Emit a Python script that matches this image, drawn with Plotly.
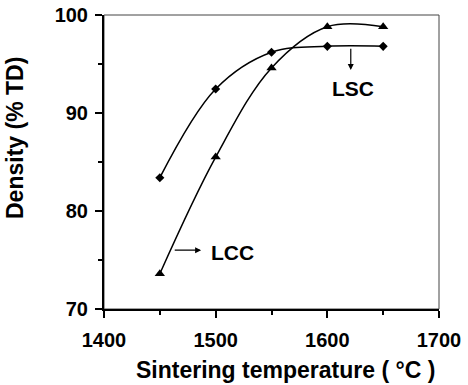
import plotly.graph_objects as go

temps = [1450, 1500, 1550, 1600, 1650]
lsc_density = [83.4, 92.45, 96.2, 96.8, 96.8]
lcc_density = [73.6, 85.5, 94.6, 98.8, 98.8]
x_ticks = [1400, 1500, 1600, 1700]
y_ticks = [70, 80, 90, 100]

FONT = "Liberation Sans, Arial, sans-serif"

fig = go.Figure()
fig.add_trace(go.Scatter(x=temps, y=lsc_density, mode="lines+markers", name="LSC",
                         line=dict(color="black", width=1.5, shape="spline", smoothing=1),
                         marker=dict(symbol="diamond", size=7, color="black")))
fig.add_trace(go.Scatter(x=temps, y=lcc_density, mode="lines+markers", name="LCC",
                         line=dict(color="black", width=1.5, shape="spline", smoothing=1),
                         marker=dict(symbol="triangle-up", size=9, color="black")))

axis_common = dict(showgrid=False, zeroline=False, showline=True, linecolor="black", linewidth=2,
                   ticks="outside", ticklen=7, tickwidth=1.5, tickcolor="black", automargin=False,
                   tickfont=dict(family=FONT, size=20, color="black", weight="bold"))

fig.update_xaxes(range=[1400, 1700], tickvals=x_ticks, ticktext=[f"<b>{v}</b>" for v in x_ticks],
                 minor=dict(dtick=50, tick0=1400, ticks="outside", ticklen=4, tickcolor="black", tickwidth=1.5),
                 ticklabelstandoff=5, **axis_common)
fig.update_yaxes(range=[70, 100], tickvals=y_ticks, ticktext=[f"<b>{v}</b>" for v in y_ticks],
                 minor=dict(dtick=5, tick0=70, ticks="outside", ticklen=4, tickcolor="black", tickwidth=1.5),
                 ticklabelstandoff=3, **axis_common)

fig.add_shape(type="rect", xref="paper", yref="paper", x0=0, x1=1, y0=0, y1=1,
              line=dict(color="#444", width=1), layer="below")

# arrows
fig.add_annotation(x=1621, y=94.4, ax=1621, ay=96.7, xref="x", yref="y", axref="x", ayref="y",
                   text="", showarrow=True, arrowhead=2, arrowsize=1, arrowwidth=1.2, arrowcolor="black")
fig.add_annotation(x=1487, y=76.0, ax=1462, ay=76.0, xref="x", yref="y", axref="x", ayref="y",
                   text="", showarrow=True, arrowhead=2, arrowsize=1, arrowwidth=1.2, arrowcolor="black")
fig.add_annotation(x=1623, y=92.5, xref="x", yref="y", text="<b>LSC</b>", showarrow=False,
                   font=dict(family=FONT, size=21, color="black"))
fig.add_annotation(x=1494, y=75.8, xref="x", yref="y", text="<b>LCC</b>", showarrow=False, xanchor="left",
                   font=dict(family=FONT, size=21, color="black"))

# axis titles
fig.add_annotation(x=-(104 - 15) / 335, y=(309 - 138) / 294, xref="paper", yref="paper",
                   text="<b>Density (% TD)</b>", textangle=-90, showarrow=False,
                   xanchor="center", yanchor="middle",
                   font=dict(family=FONT, size=23, color="black"))
fig.add_annotation(x=(285 - 104) / 335, y=-(370 - 309) / 294, xref="paper", yref="paper",
                   text="<b>Sintering temperature ( °C )</b>", showarrow=False,
                   xanchor="center", yanchor="middle",
                   font=dict(family=FONT, size=23, color="black"))

fig.update_layout(width=468, height=385, margin=dict(l=104, r=29, t=15, b=76, autoexpand=False),
                  plot_bgcolor="white", paper_bgcolor="white", showlegend=False)

fig.write_html("out.html")
